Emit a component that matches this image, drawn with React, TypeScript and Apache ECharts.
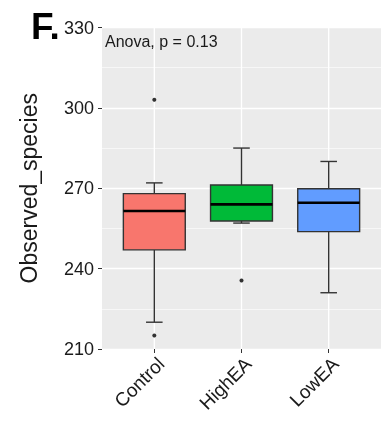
import React, { useEffect, useRef } from "react";
import * as echarts from "echarts";

const categories = ["Control", "HighEA", "LowEA"];
const boxMin = [220, 257, 231];
const boxQ1 = [247, 257.8, 253.8];
const boxMedian = [261.5, 264, 264.6];
const boxQ3 = [268, 271.2, 269.8];
const boxMax = [272, 285, 280];
const fillColors = ["#F8766D", "#00BA38", "#619CFF"];
const outlierCategory = ["Control", "Control", "HighEA"];
const outlierValue = [303, 215, 235.6];
const yTicks = [210, 240, 270, 300, 330];
const yTitle = "Observed_species";
const panelLabel = "F.";
const testLabel = "Anova, p = 0.13";

const FONT = "'Liberation Sans', Arial, Helvetica, sans-serif";

export default function App() {
  const ref = useRef<HTMLDivElement>(null);
  useEffect(() => {
    if (!ref.current) return;
    const chart = echarts.init(ref.current, null, { renderer: "svg" });
    const xPos = categories.map((_, i) => i + 1);
    const boxData = categories.map((_, i) => [
      i + 1,
      boxMin[i],
      boxQ1[i],
      boxMedian[i],
      boxQ3[i],
      boxMax[i],
    ]);
    const outlierData = outlierCategory.map((c, i) => [
      categories.indexOf(c) + 1,
      outlierValue[i],
    ]);
    const yMin = yTicks[0];
    const yMax = yTicks[yTicks.length - 1];

    chart.setOption({
      animation: false,
      textStyle: { fontFamily: FONT },
      grid: {
        left: 102,
        right: -6,
        top: 27.5,
        bottom: 74,
        show: true,
        backgroundColor: "#EBEBEB",
        borderWidth: 0,
      },
      xAxis: {
        type: "value",
        min: 0.4,
        max: 3.6,
        axisLine: { show: false },
        axisTick: {
          show: true,
          customValues: xPos,
          length: 4,
          lineStyle: { color: "#333", width: 1 },
        },
        axisLabel: {
          customValues: xPos,
          formatter: (v: number) => categories[Math.round(v) - 1] ?? "",
          rotate: 45,
          fontSize: 19,
          color: "#1a1a1a",
          margin: 5,
          align: "right",
          verticalAlign: "top",
          fontFamily: FONT,
        },
        splitLine: { show: false },
      },
      yAxis: {
        type: "value",
        min: yMin,
        max: yMax,
        interval: 30,
        name: yTitle,
        nameLocation: "middle",
        nameGap: 62,
        nameTextStyle: { fontSize: 23, color: "#1a1a1a", fontFamily: FONT },
        axisLine: { show: false },
        axisTick: { show: true, length: 4, lineStyle: { color: "#333", width: 1 } },
        axisLabel: { fontSize: 18, color: "#1a1a1a", margin: 8, fontFamily: FONT },
        splitLine: { show: true, lineStyle: { color: "#FFFFFF", width: 1.3 } },
        minorTick: { show: false, splitNumber: 2 },
        minorSplitLine: { show: true, lineStyle: { color: "#FFFFFF", width: 0.6 } },
      },
      graphic: [
        {
          type: "text",
          left: 31,
          top: 8,
          style: {
            text: panelLabel,
            font: `bold 37px ${FONT}`,
            fill: "#000",
          },
        },
        {
          type: "text",
          left: 105,
          top: 33,
          style: {
            text: testLabel,
            font: `16px ${FONT}`,
            fill: "#1a1a1a",
          },
          z: 100,
        },
      ],
      series: [
        {
          type: "custom",
          name: "vgrid",
          silent: true,
          z: 1,
          data: xPos.map((x) => [x]),
          renderItem: (params: any, api: any) => {
            const x = api.value(0);
            const p1 = api.coord([x, yMin]);
            const p2 = api.coord([x, yMax]);
            return {
              type: "line",
              shape: { x1: p1[0], y1: p1[1], x2: p2[0], y2: p2[1] },
              style: { stroke: "#FFFFFF", lineWidth: 1.3 },
            };
          },
        },
        {
          type: "custom",
          name: "boxes",
          z: 3,
          data: boxData,
          renderItem: (params: any, api: any) => {
            const x = api.value(0);
            const lo = api.coord([x, api.value(1)]);
            const q1 = api.coord([x, api.value(2)]);
            const med = api.coord([x, api.value(3)]);
            const q3 = api.coord([x, api.value(4)]);
            const hi = api.coord([x, api.value(5)]);
            const halfW = api.size([0.71, 0])[0] / 2;
            const capHalf = api.size([0.19, 0])[0] / 2;
            const cx = lo[0];
            const stroke = "#333333";
            const lw = 1.4;
            return {
              type: "group",
              children: [
                {
                  type: "line",
                  shape: { x1: cx, y1: hi[1], x2: cx, y2: q3[1] },
                  style: { stroke, lineWidth: lw },
                },
                {
                  type: "line",
                  shape: { x1: cx, y1: lo[1], x2: cx, y2: q1[1] },
                  style: { stroke, lineWidth: lw },
                },
                {
                  type: "line",
                  shape: { x1: cx - capHalf, y1: hi[1], x2: cx + capHalf, y2: hi[1] },
                  style: { stroke, lineWidth: lw },
                },
                {
                  type: "line",
                  shape: { x1: cx - capHalf, y1: lo[1], x2: cx + capHalf, y2: lo[1] },
                  style: { stroke, lineWidth: lw },
                },
                {
                  type: "rect",
                  shape: {
                    x: cx - halfW,
                    y: q3[1],
                    width: halfW * 2,
                    height: q1[1] - q3[1],
                  },
                  style: {
                    fill: fillColors[params.dataIndex],
                    stroke,
                    lineWidth: lw,
                  },
                },
                {
                  type: "line",
                  shape: { x1: cx - halfW, y1: med[1], x2: cx + halfW, y2: med[1] },
                  style: { stroke: "#000000", lineWidth: 2.6 },
                },
              ],
            };
          },
        },
        {
          type: "scatter",
          name: "outliers",
          z: 4,
          symbol: "circle",
          symbolSize: 4,
          itemStyle: { color: "#000000" },
          data: outlierData,
        },
      ],
    });
    return () => chart.dispose();
  }, []);
  return (
    <div
      ref={ref}
      style={{ position: "fixed", left: 0, top: 0, width: 381, height: 423 }}
    />
  );
}
